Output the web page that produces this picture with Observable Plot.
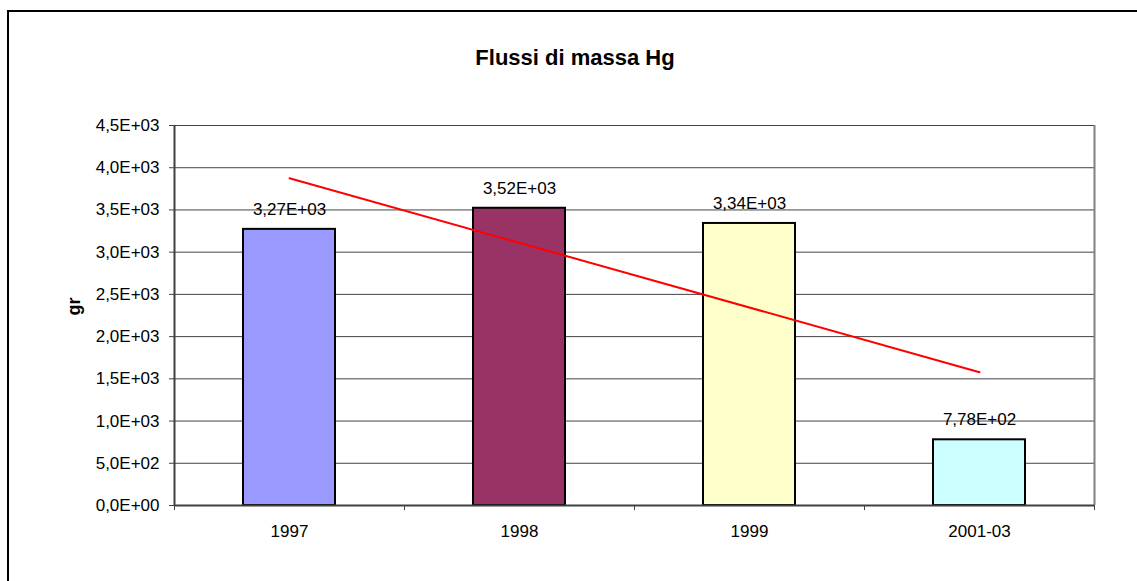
<!DOCTYPE html>
<html><head><meta charset="utf-8">
<script src="https://cdn.jsdelivr.net/npm/d3@7"></script>
<script src="https://cdn.jsdelivr.net/npm/@observablehq/plot@0.6"></script>
<style>
body{margin:0;background:#fff;overflow:hidden;font-family:"Liberation Sans",Arial,sans-serif;}
#frame{position:absolute;left:7px;top:10px;width:1200px;height:700px;border:2px solid #000;}
#title{position:absolute;left:8px;width:1134px;top:47px;text-align:center;font-weight:bold;font-size:22px;line-height:22px;margin:0;}
#chart{position:absolute;left:0;top:100px;}
</style></head><body>
<div id="frame"></div>
<h1 id="title"></h1>
<div id="chart"></div>
<script>
const titleText = "Flussi di massa Hg";
const yLabel = "gr";
const categories = ["1997", "1998", "1999", "2001-03"];
const values = [3270, 3520, 3340, 778];
const barColors = ["#9999FF", "#993366", "#FFFFCC", "#CCFFFF"];
const yTicks = [0, 500, 1000, 1500, 2000, 2500, 3000, 3500, 4000, 4500];

function sci(v, d) {
  const [m, e] = v.toExponential(d).split("e");
  const n = +e;
  return m.replace(".", ",") + "E" + (n < 0 ? "-" : "+") + String(Math.abs(n)).padStart(2, "0");
}

document.getElementById("title").textContent = titleText;

const data = categories.map((c, i) => ({cat: c, value: values[i]}));

// linear trend over category index
const n = values.length;
const mx = (n - 1) / 2;
const my = d3.mean(values);
let sxy = 0, sxx = 0;
values.forEach((v, i) => { sxy += (i - mx) * (v - my); sxx += (i - mx) * (i - mx); });
const slope = sxy / sxx;
const trend = [0, n - 1].map(i => ({cat: categories[i], value: my + slope * (i - mx)}));

const step = (1137 - 174 - 43) / categories.length;

const chart = Plot.plot({
  width: 1137,
  height: 481,
  marginLeft: 174,
  marginRight: 43,
  marginTop: 25,
  marginBottom: 76,
  style: {fontFamily: "'Liberation Sans', Arial, sans-serif", fontSize: "17px", color: "#000", background: "transparent", overflow: "visible"},
  x: {domain: categories, paddingInner: 0.6, paddingOuter: 0.3, label: null},
  y: {domain: [0, 4500], label: null},
  color: {domain: categories, range: barColors},
  marks: [
    Plot.gridY(yTicks, {stroke: "#444", strokeOpacity: 1, strokeWidth: 1}),
    Plot.ruleX([categories[n - 1]], {dx: step / 2, stroke: "#808080", strokeWidth: 2}),
    Plot.barY(data, {x: "cat", y: "value", fill: "cat", stroke: "#000", strokeWidth: 2}),
    Plot.text(data, {x: "cat", y: "value", text: d => sci(d.value, 2), dy: -20, fontSize: 17, fill: "#000"}),
    Plot.line(trend, {x: "cat", y: "value", stroke: "#FF0000", strokeWidth: 2}),
    Plot.ruleY([0], {stroke: "#404040", strokeWidth: 2}),
    Plot.ruleX([categories[0]], {dx: -step / 2, stroke: "#404040", strokeWidth: 2}),
    Plot.ruleX(categories, {y1: 0, y2: -60, dx: -step / 2, stroke: "#404040", strokeWidth: 1}),
    Plot.ruleX([categories[n - 1]], {y1: 0, y2: -60, dx: step / 2, stroke: "#404040", strokeWidth: 1}),
    Plot.axisY(yTicks, {tickFormat: v => sci(v, 1), tickSize: 5, tickPadding: 10, stroke: "#404040", fontSize: 17, label: null}),
    Plot.axisX({tickSize: 0, tickPadding: 19, fontSize: 17, label: null}),
    Plot.text([yLabel], {frameAnchor: "left", dx: -100, rotate: -90, fontWeight: "bold", fontSize: 18, text: d => d})
  ]
});
document.getElementById("chart").appendChild(chart);
</script>
</body></html>
